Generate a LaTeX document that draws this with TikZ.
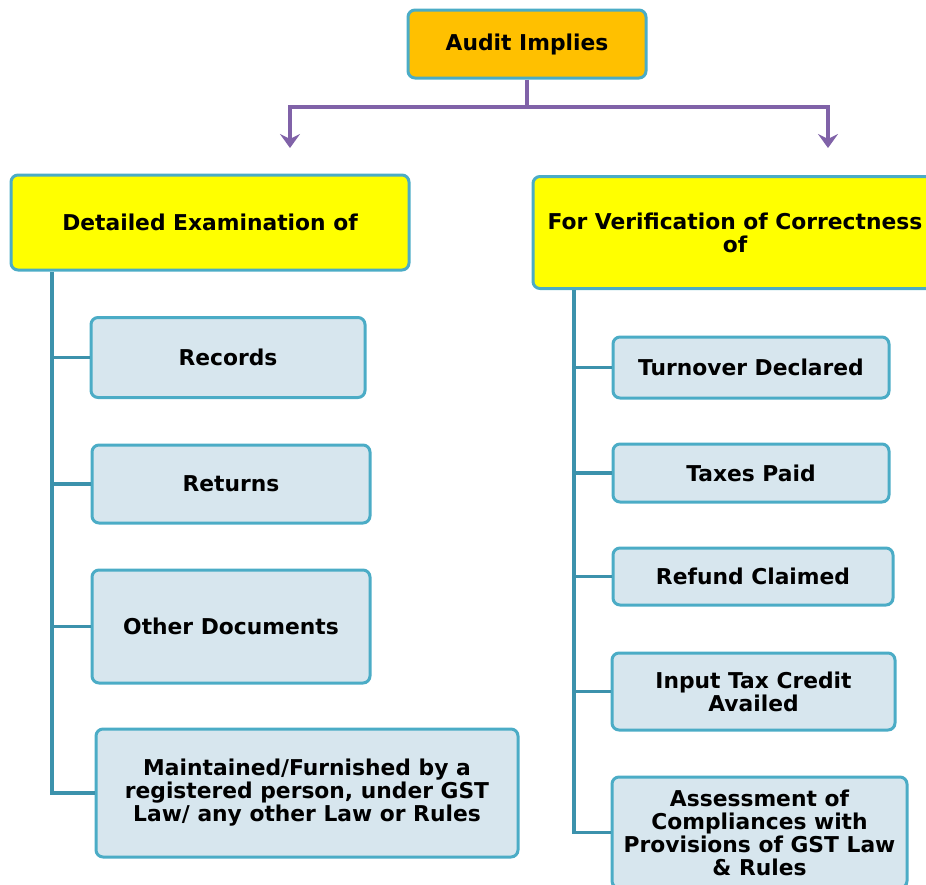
\documentclass[tikz,border=0pt]{standalone}
\usepackage{fontspec}
\setmainfont{DejaVu Sans}
\usetikzlibrary{arrows.meta}
\definecolor{gold}{HTML}{FFC000}
\definecolor{lemon}{HTML}{FFFF00}
\definecolor{pale}{HTML}{D7E6EE}
\definecolor{rim}{HTML}{4BACC6}
\definecolor{stem}{HTML}{3C92AC}
\definecolor{plum}{HTML}{8062A8}
\begin{document}
\begin{tikzpicture}[x=1pt,y=-1pt,>={Stealth[length=14pt,width=20pt,inset=5pt]},
  box/.style={draw=rim,line width=3pt,rounded corners=7pt,inner sep=0pt,align=center,
    font=\fontsize{21.8}{23}\selectfont\bfseries},
  item/.style={box,fill=pale},
  stemline/.style={draw=stem,line width=3.5pt},
  plumline/.style={draw=plum,line width=3.5pt}]
  \useasboundingbox (0,0) rectangle (926,884);
  \node[box,fill=gold,minimum width=238pt,minimum height=68pt] (audit) at (527,44) {Audit Implies};
  \node[box,fill=lemon,minimum width=398pt,minimum height=95pt] (det) at (210,222.5) {Detailed Examination of};
  \node[box,fill=lemon,minimum width=404pt,minimum height=112pt] (ver) at (735,232.5) {For Verification of Correctness\\of};
  % left column
  \node[item,minimum width=274pt,minimum height=80pt] (rec) at (228,357.5) {Records};
  \node[item,minimum width=278pt,minimum height=78pt] (ret) at (231,484) {Returns};
  \node[item,minimum width=278pt,minimum height=113pt] (oth) at (231,626.5) {Other Documents};
  \node[item,minimum width=422pt,minimum height=128pt] (mnt) at (307,793) {Maintained/Furnished by a\\registered person, under GST\\Law/ any other Law or Rules};
  % right column
  \node[item,minimum width=276pt,minimum height=61pt] (tur) at (751,367.5) {Turnover Declared};
  \node[item,minimum width=276pt,minimum height=58pt] (tax) at (751,473) {Taxes Paid};
  \node[item,minimum width=280pt,minimum height=57pt] (ref) at (753,576.5) {Refund Claimed};
  \node[item,minimum width=283pt,minimum height=77pt] (itc) at (753.5,691.5) {Input Tax Credit\\Availed};
  \node[item,minimum width=295pt,minimum height=111pt] (ass) at (759.5,832.5) {Assessment of\\Compliances with\\Provisions of GST Law\\\& Rules};
  % purple split
  \coordinate (jn) at (audit.south |- 0,107);
  \coordinate (la) at (290,148);
  \coordinate (ra) at (828,148);
  \draw[plumline] (audit.south) -- (jn);
  \draw[plumline,->] (jn) -| (la);
  \draw[plumline,->] (jn) -| (ra);
  % trunks
  \coordinate (lt) at (52,0);
  \coordinate (rt) at (574,0);
  \draw[stemline] (lt |- det.south) |- (mnt.west);
  \foreach \n in {rec,ret,oth} \draw[stemline] (lt |- \n.west) -- (\n.west);
  \draw[stemline] (rt |- ver.south) |- (ass.west);
  \foreach \n in {tur,tax,ref,itc} \draw[stemline] (rt |- \n.west) -- (\n.west);
\end{tikzpicture}
\end{document}
